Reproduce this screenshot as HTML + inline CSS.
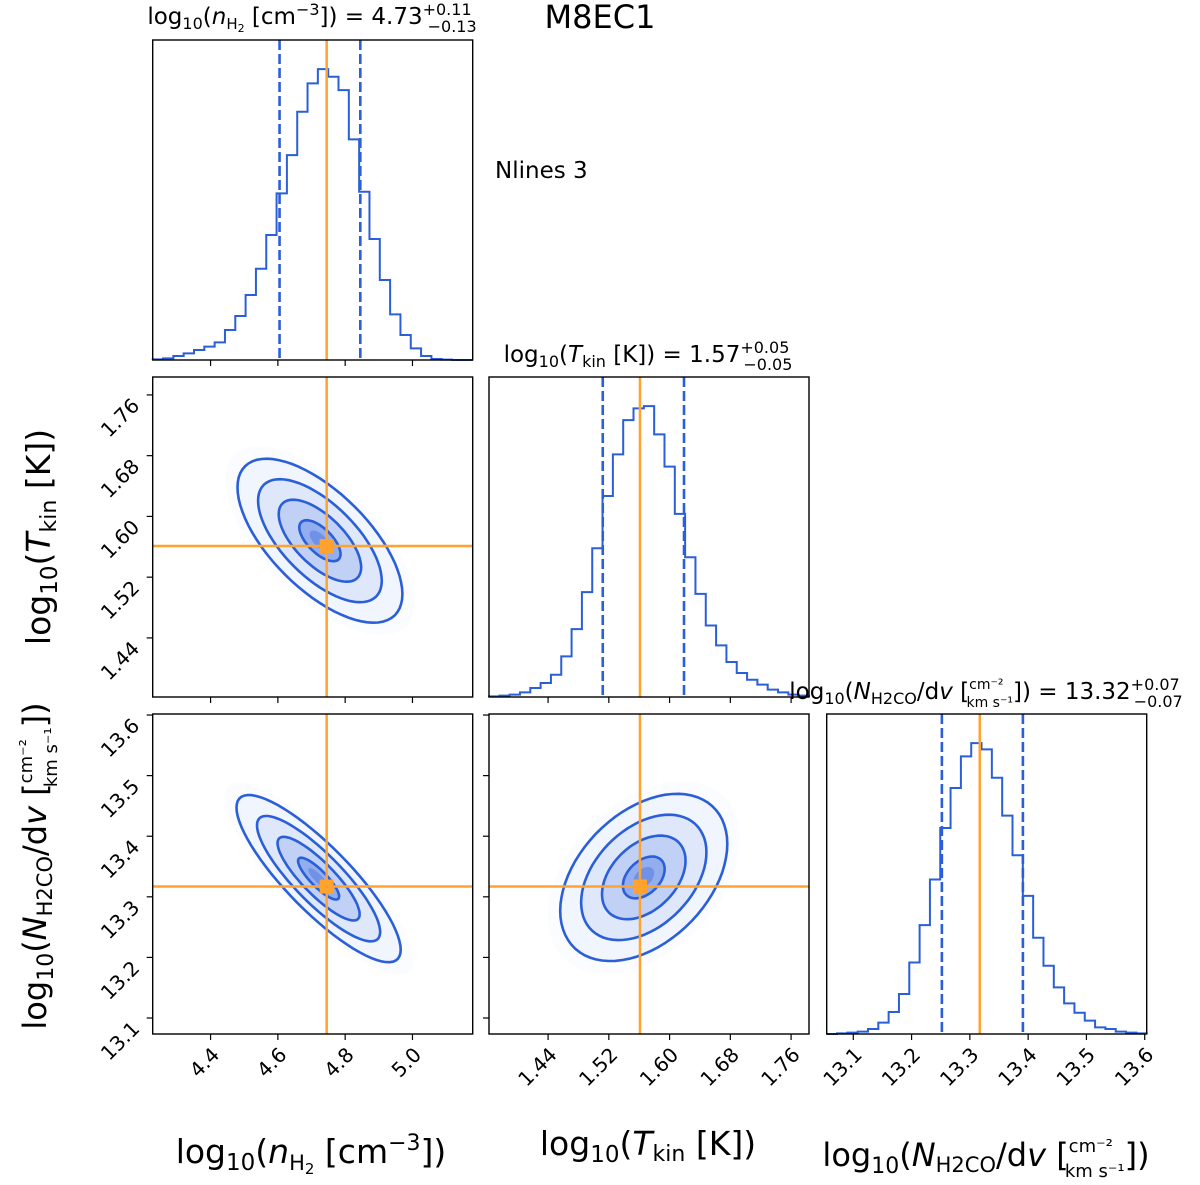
<!DOCTYPE html>
<html><head><meta charset="utf-8"><style>
html,body{margin:0;padding:0;background:#fff}
svg{display:block;font-family:"DejaVu Sans","Liberation Sans",sans-serif}
</style></head><body>
<svg id="chart" width="1200" height="1185" viewBox="0 0 1200 1185" xmlns="http://www.w3.org/2000/svg">
<text x="600" y="28" font-size="32" text-anchor="middle">M8EC1</text>
<text x="495" y="178" font-size="23">Nlines 3</text>
<g id="layer"></g>
<text x="311" y="1163" font-size="33" text-anchor="middle">log<tspan font-size="23" dy="7">10</tspan><tspan dy="-7">(</tspan><tspan font-style="italic">n</tspan><tspan font-size="21" dy="7">H</tspan><tspan font-size="15" dy="4">2</tspan><tspan dy="-11"> [cm</tspan><tspan font-size="22" dy="-13">−3</tspan><tspan dy="13">])</tspan></text>
<text x="648" y="1155" font-size="33" text-anchor="middle">log<tspan font-size="23" dy="7">10</tspan><tspan dy="-7">(</tspan><tspan font-style="italic">T</tspan><tspan font-size="22" dy="6">kin</tspan><tspan dy="-6"> [K])</tspan></text>
<text x="986" y="1166" font-size="32" text-anchor="middle">log<tspan font-size="22" dy="7">10</tspan><tspan dy="-7">(</tspan><tspan font-style="italic">N</tspan><tspan font-size="21" dy="6">H2CO</tspan><tspan dy="-6">/d</tspan><tspan font-style="italic">v</tspan> [<tspan font-size="18" dy="-14">cm⁻²</tspan><tspan font-size="18" dx="-48" dy="25">km s⁻¹</tspan><tspan dy="-11">])</tspan></text>
<text transform="translate(50,537) rotate(-90)" font-size="33" text-anchor="middle">log<tspan font-size="23" dy="7">10</tspan><tspan dy="-7">(</tspan><tspan font-style="italic">T</tspan><tspan font-size="22" dy="6">kin</tspan><tspan dy="-6"> [K])</tspan></text>
<text transform="translate(46,866) rotate(-90)" font-size="32" text-anchor="middle">log<tspan font-size="22" dy="7">10</tspan><tspan dy="-7">(</tspan><tspan font-style="italic">N</tspan><tspan font-size="21" dy="6">H2CO</tspan><tspan dy="-6">/d</tspan><tspan font-style="italic">v</tspan> [<tspan font-size="18" dy="-14">cm⁻²</tspan><tspan font-size="18" dx="-48" dy="25">km s⁻¹</tspan><tspan dy="-11">])</tspan></text>
<text x="312" y="24" font-size="23" text-anchor="middle">log<tspan font-size="16" dy="5">10</tspan><tspan dy="-5">(</tspan><tspan font-style="italic">n</tspan><tspan font-size="15" dy="5">H</tspan><tspan font-size="11" dy="3">2</tspan><tspan dy="-8"> [cm</tspan><tspan font-size="16" dy="-9">−3</tspan><tspan dy="9">]) = 4.73</tspan><tspan font-size="16" dy="-9">+0.11</tspan><tspan font-size="16" dx="-44" dy="17">−0.13</tspan></text>
<text x="648" y="362" font-size="23" text-anchor="middle">log<tspan font-size="16" dy="5">10</tspan><tspan dy="-5">(</tspan><tspan font-style="italic">T</tspan><tspan font-size="16" dy="5">kin</tspan><tspan dy="-5"> [K]) = 1.57</tspan><tspan font-size="16" dy="-9">+0.05</tspan><tspan font-size="16" dx="-46" dy="17">−0.05</tspan></text>
<text x="986" y="699" font-size="23" text-anchor="middle">log<tspan font-size="16" dy="5">10</tspan><tspan dy="-5">(</tspan><tspan font-style="italic">N</tspan><tspan font-size="16" dy="5">H2CO</tspan><tspan dy="-5">/d</tspan><tspan font-style="italic">v</tspan> [<tspan font-size="14" dy="-10">cm⁻²</tspan><tspan font-size="14" dx="-37" dy="18">km s⁻¹</tspan><tspan dy="-8">]) = 13.32</tspan><tspan font-size="16" dy="-9">+0.07</tspan><tspan font-size="16" dx="-46" dy="17">−0.07</tspan></text>
</svg>
<script>
// ---- data ----
const paramNames = ["nh2", "tkin", "nh2co"];
const xRanges = [[4.228, 5.179], [1.3622, 1.7836], [13.0544, 13.6034]];
const yRanges = [null, [1.3622, 1.7836], [13.0736, 13.6017]];
const ticksNh2 = [4.4, 4.6, 4.8, 5.0];
const ticksTkin = [1.44, 1.52, 1.60, 1.68, 1.76];
const ticksN = [13.1, 13.2, 13.3, 13.4, 13.5, 13.6];
const tickLabelsNh2 = ["4.4", "4.6", "4.8", "5.0"];
const tickLabelsTkin = ["1.44", "1.52", "1.60", "1.68", "1.76"];
const tickLabelsN = ["13.1", "13.2", "13.3", "13.4", "13.5", "13.6"];
const histNh2 = [2,5,12,20,30,40,53,90,132,195,274,375,500,615,745,830,873,850,810,662,505,363,240,137,75,35,12,3,1,0,0];
const histTkin = [2,4,7,14,27,42,67,122,204,315,447,604,729,832,867,874,789,692,550,420,310,215,155,105,72,52,37,22,14,7,4];
const histN = [0,2,4,7,15,34,66,120,215,327,464,619,739,834,874,855,770,656,537,415,289,205,140,92,64,40,20,15,7,4,2];
const q16 = [4.605, 1.512, 13.252];
const q84 = [4.845, 1.619, 13.391];
const truths = [4.745, 1.561, 13.317];
const pairX = [0, 0, 1];
const pairY = [1, 2, 2];
const meanX = [4.725, 4.721, 1.566];
const meanY = [1.568, 13.33, 13.332];
const sdX = [0.1225, 0.122, 0.055];
const sdY = [0.054, 0.069, 0.069];
const rhos = [-0.65, -0.85, 0.4];
const levels = [0.5, 1, 1.5, 2];

// ---- layout ----
const NS = "http://www.w3.org/2000/svg";
const colX = [152.7, 489, 826.7], rowY = [40, 377, 714], S = 320;
const BLUE = "#2a5fd8", ORANGE = "#ffa32e";
const layer = document.getElementById("layer");
const ticksAll = [ticksNh2, ticksTkin, ticksN];
const labelsAll = [tickLabelsNh2, tickLabelsTkin, tickLabelsN];
const hists = [histNh2, histTkin, histN];
function mk(tag, attrs, parent) { const e = document.createElementNS(NS, tag); for (const k in attrs) e.setAttribute(k, attrs[k]); (parent || layer).appendChild(e); return e; }
function sx(p, v) { const r = xRanges[p]; return colX[p] + (v - r[0]) / (r[1] - r[0]) * S; }
function sy(p, row, v) { const r = yRanges[p]; return rowY[row] + S - (v - r[0]) / (r[1] - r[0]) * S; }

function frame(col, row, name) {
  const r = mk("rect", {x: colX[col], y: rowY[row], width: S, height: S, fill: "none", stroke: "#000", "stroke-width": 1.4});
  
  
}
function xTicks(col, row, withLabels) {
  const p = col, base = rowY[row] + S;
  ticksAll[p].forEach((t, i) => {
    const x = sx(p, t);
    const l = mk("line", {x1: x, x2: x, y1: base, y2: base + 6, stroke: "#000", "stroke-width": 1.2});
    
    
    if (withLabels) {
      const ax = x + 10, ay = base + 22;
      const tx = mk("text", {x: ax, y: ay, "font-size": 20, "text-anchor": "end", transform: `rotate(-45 ${ax} ${ay})`});
      tx.textContent = labelsAll[p][i];
      
      
    }
  });
}
function yTicks(col, row, p) {
  const x0 = colX[col];
  ticksAll[p].forEach((t, i) => {
    const y = sy(p, row, t);
    const l = mk("line", {x1: x0 - 6, x2: x0, y1: y, y2: y, stroke: "#000", "stroke-width": 1.2});
    
    
    const ax = x0 - 12, ay = y + 12;
    const tx = mk("text", {x: ax, y: ay, "font-size": 20, "text-anchor": "end", transform: `rotate(-45 ${ax} ${ay})`});
    tx.textContent = labelsAll[p][i];
    
    
  });
}

// histograms
for (let p = 0; p < 3; p++) {
  const h = hists[p], n = h.length, r = xRanges[p];
  const ymax = Math.max(...h) * 1.1;
  const base = rowY[p] + S;
  const yv = c => base - c / ymax * S;
  let d = `M${sx(p, r[0])},${base}`;
  for (let i = 0; i < n; i++) {
    const a = sx(p, r[0] + (r[1] - r[0]) * i / n), b = sx(p, r[0] + (r[1] - r[0]) * (i + 1) / n);
    d += ` L${a},${yv(h[i])} L${b},${yv(h[i])}`;
  }
  d += ` L${sx(p, r[1])},${base}`;
  const path = mk("path", {d, fill: "none", stroke: BLUE, "stroke-width": 2});
  
  
  [q16[p], q84[p]].forEach((q, k) => {
    const l = mk("line", {x1: sx(p, q), x2: sx(p, q), y1: rowY[p], y2: base, stroke: BLUE, "stroke-width": 2.6, "stroke-dasharray": "10,4"});
    
    
  });
  const tl = mk("line", {x1: sx(p, truths[p]), x2: sx(p, truths[p]), y1: rowY[p], y2: base, stroke: ORANGE, "stroke-width": 2.5});
  
  
  frame(p, p, `histogram-panel-${paramNames[p]}`);
  xTicks(p, p, p === 2);
}

// 2D panels
const fills = [[2.3, "#fbfcff"], [2, "#f1f5fd"], [1.5, "#dfe8fa"], [1, "#c0d1f5"], [0.5, "#93aeee"], [0.25, "#6f92e7"]];
for (let k = 0; k < 3; k++) {
  const px = pairX[k], py = pairY[k], col = px, row = py;
  const g = mk("g", {});
  
  
  const clipId = "clip" + k;
  const cp = mk("clipPath", {id: clipId}, g);
  mk("rect", {x: colX[col], y: rowY[row], width: S, height: S}, cp);
  const inner = mk("g", {"clip-path": `url(#${clipId})`}, g);
  const ell = lev => {
    let d = "";
    for (let i = 0; i <= 72; i++) {
      const t = i / 72 * 2 * Math.PI;
      const vx = meanX[k] + lev * sdX[k] * Math.cos(t);
      const vy = meanY[k] + lev * sdY[k] * (rhos[k] * Math.cos(t) + Math.sqrt(1 - rhos[k] * rhos[k]) * Math.sin(t));
      d += (i ? " L" : "M") + sx(px, vx).toFixed(1) + "," + sy(py, row, vy).toFixed(1);
    }
    return d + "Z";
  };
  fills.forEach(f => {
    const e = mk("path", {d: ell(f[0]), fill: f[1], stroke: "none"}, inner);
    
    
  });
  levels.forEach(lv => {
    const e = mk("path", {d: ell(lv), fill: "none", stroke: BLUE, "stroke-width": 2.6}, inner);
    
    
  });
  const tx = sx(px, truths[px]), ty = sy(py, row, truths[py]);
  const v = mk("line", {x1: tx, x2: tx, y1: rowY[row], y2: rowY[row] + S, stroke: ORANGE, "stroke-width": 2.5}, inner);
  
  
  const hz = mk("line", {x1: colX[col], x2: colX[col] + S, y1: ty, y2: ty, stroke: ORANGE, "stroke-width": 2.5}, inner);
  
  
  const m = mk("rect", {x: tx - 7, y: ty - 7, width: 14, height: 14, fill: ORANGE}, inner);
  
  
  frame(col, row, `panel-frame-${paramNames[px]}-${paramNames[py]}`);
  xTicks(col, row, row === 2);
  if (col === 0) yTicks(col, row, py);
  else {
    ticksAll[py].forEach(t => {
      const y = sy(py, row, t);
      const l = mk("line", {x1: colX[col] - 6, x2: colX[col], y1: y, y2: y, stroke: "#000", "stroke-width": 1.2});
      
      
    });
  }
}
</script>
</body></html>
